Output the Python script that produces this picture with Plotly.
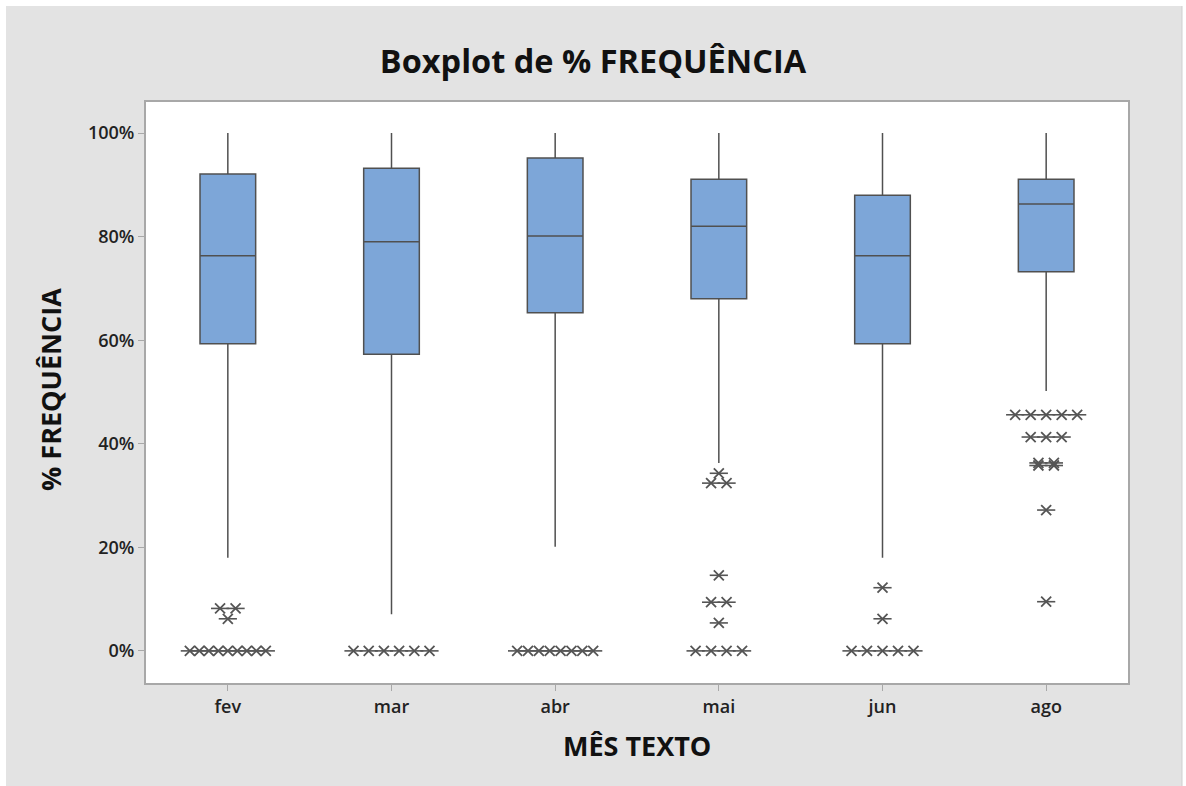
import plotly.graph_objects as go
from collections import Counter

# Monthly summary statistics (% FREQUÊNCIA)
months = ["fev", "mar", "abr", "mai", "jun", "ago"]
q1 = [59.3, 57.3, 65.3, 68.0, 59.3, 73.2]
median = [76.3, 79.0, 80.1, 82.0, 76.3, 86.3]
q3 = [92.1, 93.2, 95.2, 91.1, 88.0, 91.1]
whisker_low = [18.0, 7.1, 20.1, 36.3, 18.0, 50.2]
whisker_high = [100, 100, 100, 100, 100, 100]

# Outliers per month
out_fev = [0] * 9 + [8.2, 8.2, 6.2]
out_mar = [0] * 6
out_abr = [0] * 8
out_mai = [0] * 4 + [5.4, 9.4, 9.4, 14.6, 32.4, 32.4, 34.3]
out_jun = [0] * 5 + [6.2, 12.2]
out_ago = [9.5, 27.2, 35.8, 35.8, 36.3, 36.3] + [41.3] * 3 + [45.6] * 5
outliers = [out_fev, out_mar, out_abr, out_mai, out_jun, out_ago]

BOX_FILL = "#7da6d8"
LINE = "#505050"
STAR = "#555555"
PANEL = "#e3e3e3"
CAT_PX = 163.7  # pixels per category on the x axis

fig = go.Figure()

for i, m in enumerate(months):
    fig.add_trace(go.Box(
        x=[i], q1=[q1[i]], median=[median[i]], q3=[q3[i]],
        lowerfence=[whisker_low[i]], upperfence=[whisker_high[i]],
        width=0.34, whiskerwidth=0, fillcolor=BOX_FILL,
        line=dict(color=LINE, width=1.5),
        boxpoints=False, hoverinfo="skip", showlegend=False,
    ))

# Tied outliers are spread side by side around the category centre
sx, sy = [], []
for i, vals in enumerate(outliers):
    counts = Counter(vals)
    for v, n in counts.items():
        step_px = 15.5 if n < 2 else min(15.5, 76.0 / (n - 1))
        step = step_px / CAT_PX
        for k in range(n):
            sx.append(i + (k - (n - 1) / 2) * step)
            sy.append(v)

# Asterisk symbol: diagonal cross plus a horizontal bar
fig.add_trace(go.Scatter(
    x=sx, y=sy, mode="markers", hoverinfo="skip", showlegend=False,
    marker=dict(symbol="x-thin-open", size=10, color=STAR,
                line=dict(color=STAR, width=1.8)),
))
fig.add_trace(go.Scatter(
    x=sx, y=sy, mode="markers", hoverinfo="skip", showlegend=False,
    marker=dict(symbol="line-ew-open", size=13, color=STAR,
                line=dict(color=STAR, width=1.6)),
))

FONT = "Open Sans"
L, R, T, B = 146, 58, 102, 103
W, H = 1186, 786
pw, ph = W - L - R, H - T - B

def px_x(px):
    return (px - L) / pw

def px_y(py):
    return (H - B - py) / ph

# White frame strips around the grey panel
strip = dict(type="rect", xref="paper", yref="paper", layer="below",
             fillcolor="white", line=dict(width=0))
shapes = [
    dict(strip, x0=px_x(-5), x1=px_x(6), y0=px_y(800), y1=px_y(-5)),
    dict(strip, x0=px_x(-5), x1=px_x(1200), y0=px_y(6), y1=px_y(-5)),
    dict(strip, x0=px_x(1182), x1=px_x(1200), y0=px_y(800), y1=px_y(-5)),
    dict(type="line", xref="paper", yref="paper",
         x0=px_x(1182), x1=px_x(1182), y0=px_y(800), y1=px_y(6),
         line=dict(color="#cfcfcf", width=1)),
]

fig.update_layout(
    width=W, height=H,
    margin=dict(l=L, r=R, t=T, b=B),
    paper_bgcolor=PANEL,
    plot_bgcolor="white",
    title=dict(
        text="<b>Boxplot de % FREQUÊNCIA</b>",
        x=593 / W, xanchor="center", xref="container",
        y=1 - 62 / H, yanchor="middle",
        font=dict(family=FONT, size=32.5, color="#111111"),
    ),
    xaxis=dict(
        range=[-0.5, 5.5], tickmode="array",
        tickvals=list(range(len(months))), ticktext=months,
        showgrid=False, zeroline=False,
        showline=True, mirror=True, linecolor="#a8a8a8", linewidth=2,
        ticks="outside", ticklen=6, tickcolor="#a8a8a8", tickwidth=1,
        tickfont=dict(family=FONT, size=18, color="#222222", weight=600),
    ),
    yaxis=dict(
        range=[-6.2, 106], tickmode="array",
        tickvals=[0, 20, 40, 60, 80, 100],
        ticktext=["0%", "20%", "40%", "60%", "80%", "100%"],
        showgrid=False, zeroline=False,
        showline=True, mirror=True, linecolor="#a8a8a8", linewidth=2,
        ticks="outside", ticklen=6, tickcolor="#a8a8a8", tickwidth=1,
        tickfont=dict(family=FONT, size=18, color="#222222", weight=600),
    ),
    shapes=shapes,
    annotations=[
        dict(text="<b>MÊS TEXTO</b>", xref="paper", yref="paper",
             x=0.5, y=px_y(745), xanchor="center", yanchor="middle",
             showarrow=False, font=dict(family=FONT, size=27, color="#111111")),
        dict(text="<b>% FREQUÊNCIA</b>", xref="paper", yref="paper",
             x=px_x(50), y=px_y(390), xanchor="center", yanchor="middle",
             textangle=-90, showarrow=False,
             font=dict(family=FONT, size=27, color="#111111")),
    ],
)

fig.write_html("out.html")
